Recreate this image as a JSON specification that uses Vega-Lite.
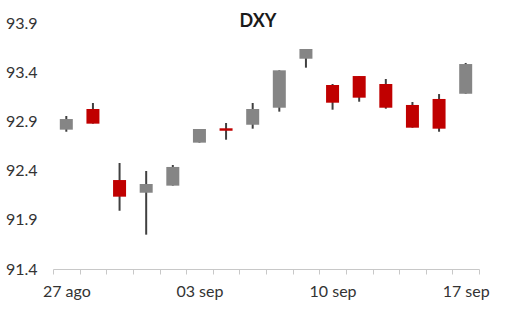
{
  "$schema": "https://vega.github.io/schema/vega-lite/v6.json",
  "width": 426,
  "height": 246,
  "autosize": "none",
  "padding": {"left": 53, "top": 23, "right": 26, "bottom": 43},
  "background": "white",
  "config": {
    "view": {"stroke": null},
    "font": "Lato"
  },
  "title": {
    "text": "DXY",
    "fontSize": 18,
    "fontWeight": "bold",
    "font": "Lato",
    "color": "#1a1a1a",
    "anchor": "middle",
    "offset": -16,
    "dx": -8
  },
  "data": {
    "values": [
      {"date": "27 ago", "open": 92.816, "close": 92.924, "high": 92.955, "low": 92.795},
      {"date": "28 ago", "open": 93.026, "close": 92.877, "high": 93.087, "low": 92.877},
      {"date": "29 ago", "open": 92.304, "close": 92.135, "high": 92.477, "low": 91.992},
      {"date": "30 ago", "open": 92.175, "close": 92.264, "high": 92.396, "low": 91.749},
      {"date": "31 ago", "open": 92.247, "close": 92.437, "high": 92.457, "low": 92.247},
      {"date": "03 sep", "open": 92.684, "close": 92.823, "high": 92.823, "low": 92.684},
      {"date": "04 sep", "open": 92.83, "close": 92.805, "high": 92.884, "low": 92.714},
      {"date": "05 sep", "open": 92.866, "close": 93.026, "high": 93.087, "low": 92.826},
      {"date": "06 sep", "open": 93.039, "close": 93.419, "high": 93.419, "low": 92.999},
      {"date": "07 sep", "open": 93.537, "close": 93.636, "high": 93.636, "low": 93.446},
      {"date": "10 sep", "open": 93.27, "close": 93.09, "high": 93.28, "low": 93.019},
      {"date": "11 sep", "open": 93.361, "close": 93.141, "high": 93.361, "low": 93.1},
      {"date": "12 sep", "open": 93.28, "close": 93.039, "high": 93.331, "low": 93.029},
      {"date": "13 sep", "open": 93.067, "close": 92.836, "high": 93.097, "low": 92.836},
      {"date": "14 sep", "open": 93.128, "close": 92.826, "high": 93.178, "low": 92.795},
      {"date": "17 sep", "open": 93.181, "close": 93.483, "high": 93.494, "low": 93.181}
    ]
  },
  "encoding": {
    "x": {
      "field": "date",
      "type": "ordinal",
      "sort": null,
      "scale": {"paddingInner": 0, "paddingOuter": 0},
      "axis": {
        "title": null,
        "labelAngle": 0,
        "labelExpr": "indexof(['27 ago','03 sep','10 sep','17 sep'], datum.label) >= 0 ? datum.label : ''",
        "labelFontSize": 16,
        "labelColor": "#333333",
        "labelPadding": 9,
        "tickBand": "extent",
        "tickSize": 5,
        "tickColor": "#c8c8c8",
        "domainColor": "#c8c8c8",
        "domainWidth": 1,
        "grid": false
      }
    }
  },
  "layer": [
    {
      "mark": {"type": "rule", "color": "#404040", "strokeWidth": 2},
      "encoding": {
        "y": {
          "field": "low",
          "type": "quantitative",
          "scale": {"domain": [91.4, 93.9], "zero": false, "nice": false},
          "axis": {
            "title": null,
            "values": [91.4, 91.9, 92.4, 92.9, 93.4, 93.9],
            "format": ".1f",
            "domain": false,
            "ticks": false,
            "grid": false,
            "labelFontSize": 16,
            "labelColor": "#333333",
            "labelPadding": 16
          }
        },
        "y2": {"field": "high"}
      }
    },
    {
      "mark": {"type": "bar", "size": 13},
      "encoding": {
        "y": {"field": "open", "type": "quantitative"},
        "y2": {"field": "close"},
        "color": {
          "condition": {"test": "datum.close >= datum.open", "value": "#858585"},
          "value": "#C00000"
        }
      }
    }
  ]
}
